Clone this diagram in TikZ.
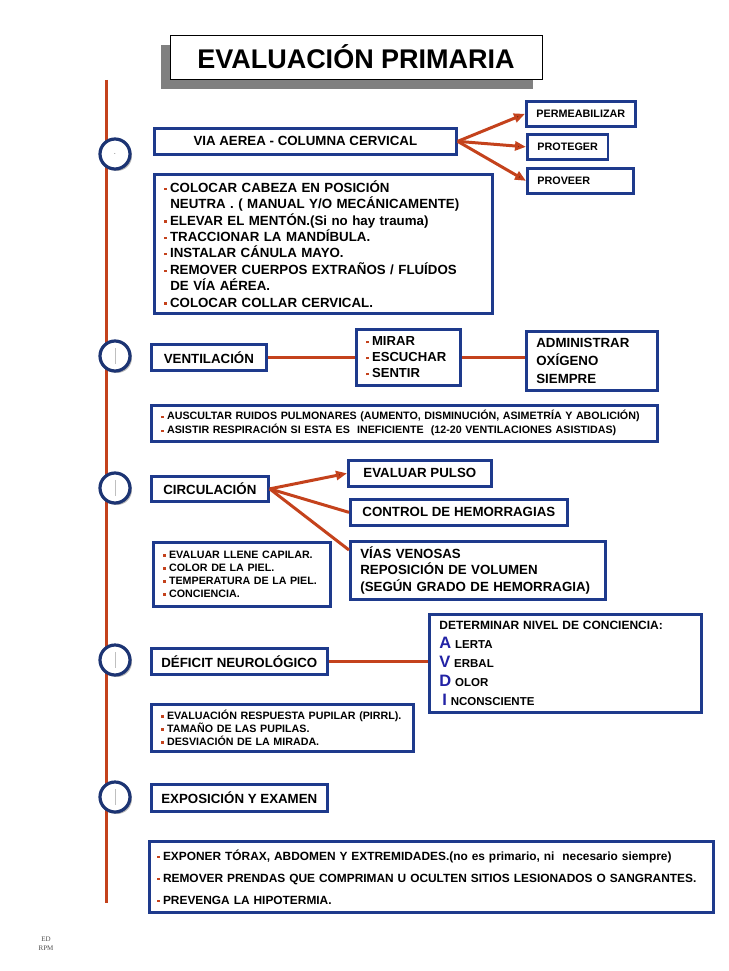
\documentclass[tikz,border=0pt]{standalone}
\usepackage{fontspec}
\setmainfont{Liberation Sans}
\newfontfamily\edfont{Liberation Serif}
\usetikzlibrary{arrows.meta,shadows}

\definecolor{boxblue}{RGB}{30,58,140}
\definecolor{circblue}{RGB}{28,52,115}
\definecolor{linered}{RGB}{196,66,28}
\definecolor{letblue}{RGB}{34,34,165}

\newcommand{\itm}{{\color{linered}\raisebox{.35ex}{\rule{2.2pt}{2.2pt}}}\hspace{3.5pt}}
\newcommand{\capl}[1]{{\fontsize{16.5}{16}\selectfont\color{letblue}#1}}

\begin{document}
\begin{tikzpicture}[x=1pt,y=-1pt]
\tikzstyle{box}=[draw=boxblue, line width=2.7pt, fill=white, inner xsep=10pt, inner ysep=0pt, anchor=north west, align=left]
\tikzstyle{lab}=[font=\bfseries\fontsize{13.3}{16.4}\selectfont]
\tikzstyle{tag}=[font=\bfseries\fontsize{10.8}{13}\selectfont]
\tikzstyle{note}=[font=\bfseries\fontsize{10.7}{13}\selectfont]
\tikzstyle{stage}=[circle, draw=circblue, line width=3.2pt, fill=white, minimum size=30pt, inner sep=0pt, drop shadow={shadow xshift=2pt, shadow yshift=-2pt, fill=black!40, opacity=0.7}]
\tikzstyle{conn}=[draw=linered, line width=3pt]
\tikzstyle{tip}=[-{Triangle[length=11pt,width=9pt]}]

\useasboundingbox (0,0) rectangle (728,971);

\node[draw=black, line width=.8pt, fill=white, minimum width=372, minimum height=44,
      font=\bfseries\fontsize{27}{27}\selectfont,
      drop shadow={shadow xshift=-9pt, shadow yshift=-10pt, fill=black!50, opacity=1}]
      (title) at (356,57) {EVALUACIÓN PRIMARIA};

\coordinate (top) at (106,80);
\coordinate (bot) at (106,903);
\draw[conn] (top) -- (bot);

\node[stage] (s1) at (115,154) {\fontsize{6}{6}\selectfont .};
\node[stage] (s2) at (115,356) {};
\node[stage] (s3) at (115,488) {};
\node[stage] (s4) at (115,660) {};
\node[stage] (s5) at (115,797) {};
\foreach \s in {s2,s3,s4,s5}
  \draw[black!25, line width=.6pt] ([yshift=8pt]\s.center) -- ([yshift=-8pt]\s.center);

% via aerea
\node[box, lab, minimum width=302, minimum height=26] (via) at (153,127) {VIA AEREA - COLUMNA CERVICAL};
\node[box, tag, minimum width=109, minimum height=25] (perm) at (525,100) {PERMEABILIZAR};
\node[box, tag, minimum width=79, minimum height=25] (prot) at (526,133) {PROTEGER};
\node[box, tag, text width=86, minimum height=25] (prov) at (526,167) {PROVEER};
\node[box, lab, text width=318, minimum height=139] (airw) at (153,173) {%
\itm COLOCAR CABEZA EN POSICIÓN\\
\hspace*{6pt}NEUTRA . ( MANUAL Y/O MECÁNICAMENTE)\\
\itm ELEVAR EL MENTÓN.(Si no hay trauma)\\
\itm TRACCIONAR LA MANDÍBULA.\\
\itm INSTALAR CÁNULA MAYO.\\
\itm REMOVER CUERPOS EXTRAÑOS / FLUÍDOS\\
\hspace*{6pt}DE VÍA AÉREA.\\
\itm COLOCAR COLLAR CERVICAL.};

% ventilacion
\node[box, lab, minimum width=115, minimum height=26] (vent) at (150,343) {VENTILACIÓN};
\node[box, lab, text width=84, minimum height=56, font=\bfseries\fontsize{13.1}{16}\selectfont] (look) at (355,328) {%
\itm MIRAR\\ \itm ESCUCHAR\\ \itm SENTIR};
\node[box, lab, text width=111, minimum height=59, font=\bfseries\fontsize{13.3}{18}\selectfont] (oxy) at (525,330) {%
ADMINISTRAR\\ OXÍGENO\\ SIEMPRE};
\node[box, note, text width=486, minimum height=36, font=\bfseries\fontsize{10.7}{14}\selectfont] (ausc) at (150,404) {%
\itm AUSCULTAR RUIDOS PULMONARES (AUMENTO, DISMINUCIÓN, ASIMETRÍA Y ABOLICIÓN)\\
\itm ASISTIR RESPIRACIÓN SI ESTA ES \ INEFICIENTE \ (12-20 VENTILACIONES ASISTIDAS)};

% circulacion
\node[box, lab, minimum width=117, minimum height=25] (circ) at (150,475) {CIRCULACIÓN};
\node[box, lab, minimum width=143, minimum height=26] (pulse) at (347,459) {EVALUAR PULSO};
\node[box, lab, minimum width=217, minimum height=26] (bleed) at (349,498) {CONTROL DE HEMORRAGIAS};
\node[box, lab, text width=235, minimum height=58] (veins) at (349,540) {%
VÍAS VENOSAS\\ REPOSICIÓN DE VOLUMEN\\ (SEGÚN GRADO DE HEMORRAGIA)};
\node[box, note, text width=157, minimum height=64] (signs) at (152,541) {%
\itm EVALUAR LLENE CAPILAR.\\ \itm COLOR DE LA PIEL.\\ \itm TEMPERATURA DE LA PIEL.\\ \itm CONCIENCIA.};

% deficit neurologico
\node[box, lab, minimum width=174, minimum height=26] (neuro) at (150,647) {DÉFICIT NEUROLÓGICO};
\node[box, text width=252, minimum height=98, font=\bfseries\fontsize{11.5}{19}\selectfont] (avdi) at (428,613) {%
{\fontsize{12}{17}\selectfont DETERMINAR NIVEL DE CONCIENCIA:}\\
\capl{A} LERTA\\ \capl{V} ERBAL\\ \capl{D} OLOR\\ \hspace*{3pt}\capl{I} NCONSCIENTE};
\node[box, note, text width=242, minimum height=47] (pupil) at (150,703) {%
\itm EVALUACIÓN RESPUESTA PUPILAR (PIRRL).\\ \itm TAMAÑO DE LAS PUPILAS.\\ \itm DESVIACIÓN DE LA MIRADA.};

% exposicion
\node[box, lab, minimum width=175, minimum height=27] (expo) at (150,783) {EXPOSICIÓN Y EXAMEN};
\node[box, inner xsep=8pt, text width=548, minimum height=71, font=\bfseries\fontsize{11.9}{22}\selectfont] (expose) at (148,840) {%
\itm EXPONER TÓRAX, ABDOMEN Y EXTREMIDADES.(no es primario, ni \ necesario siempre)\\
\itm REMOVER PRENDAS QUE COMPRIMAN U OCULTEN SITIOS LESIONADOS O SANGRANTES.\\
\itm PREVENGA LA HIPOTERMIA.};

\node[font=\edfont\fontsize{7}{9}\selectfont, text=black!70, align=center] (ed) at (46,944) {ED\\RPM};

\path[conn]
(via.east) edge[tip] (perm.west)
           edge[tip] (prot.west)
           edge[tip] (prov.west)
(vent.east) edge (look.west)
(look.east) edge (look.east -| oxy.west)
(circ.east) edge[tip] (pulse.west)
            edge (bleed.west)
            edge ([yshift=-10pt]veins.north west)
(neuro.east) edge (neuro.east -| avdi.west);
\end{tikzpicture}
\end{document}
